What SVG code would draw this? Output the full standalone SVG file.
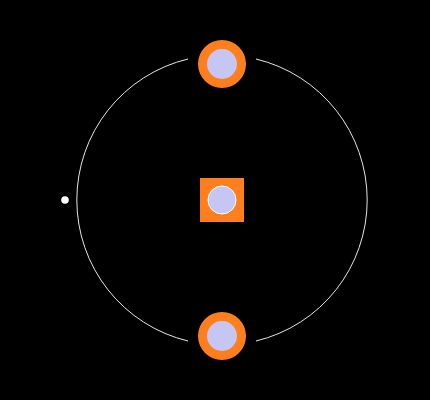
<svg xmlns="http://www.w3.org/2000/svg" width="430" height="400" viewBox="0 0 430 400">
<style>
.pad{fill:#ff7f1e}
.hole{fill:#c6c6f5}
.ring{fill:none;stroke:#e6e6e6;stroke-width:1}
</style>
<rect width="430" height="400" fill="#000"/>
<g id="connectors">
<path class="ring" d="M256,59 A145,145 0 0 1 256,341"/>
<path class="ring" d="M188,59 A145,145 0 0 0 188,341"/>
</g>
<g id="pad-top">
<circle class="pad" cx="222" cy="64" r="24"/>
<circle class="hole" cx="222" cy="64" r="15"/>
</g>
<g id="pad-center">
<rect class="pad" x="200" y="178" width="44" height="44"/>
<circle class="hole" cx="222" cy="200" r="14" stroke="#fff" stroke-width="1"/>
</g>
<g id="pad-bottom">
<circle class="pad" cx="222" cy="336" r="24"/>
<circle class="hole" cx="222" cy="336" r="15"/>
</g>
<g id="dot">
<circle cx="65" cy="200" r="3.8" fill="#fff"/>
</g>
</svg>
